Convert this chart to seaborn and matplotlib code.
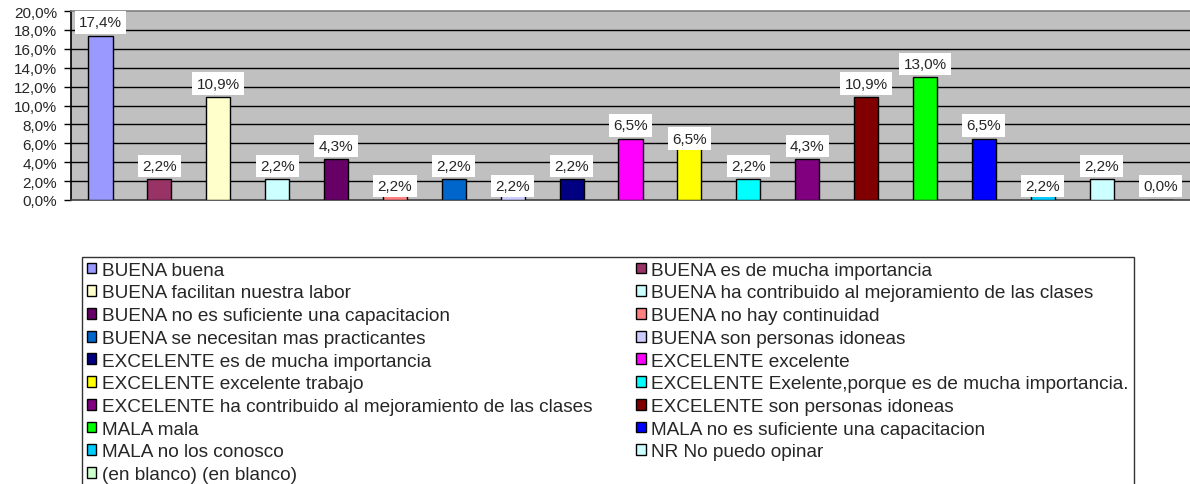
import matplotlib
matplotlib.use("Agg")
import matplotlib.pyplot as plt
from matplotlib.patches import Patch
import seaborn as sns
import pandas as pd

categorias = [
    "BUENA buena",
    "BUENA es de mucha importancia",
    "BUENA facilitan nuestra labor",
    "BUENA ha contribuido al mejoramiento de las clases",
    "BUENA no es suficiente una capacitacion",
    "BUENA no hay continuidad",
    "BUENA se necesitan mas practicantes",
    "BUENA son personas idoneas",
    "EXCELENTE es de mucha importancia",
    "EXCELENTE excelente",
    "EXCELENTE excelente trabajo",
    "EXCELENTE Exelente,porque es de mucha importancia.",
    "EXCELENTE ha contribuido al mejoramiento de las clases",
    "EXCELENTE son personas idoneas",
    "MALA mala",
    "MALA no es suficiente una capacitacion",
    "MALA no los conosco",
    "NR No puedo opinar",
    "(en blanco) (en blanco)",
]
porcentajes = [17.4, 2.2, 10.9, 2.2, 4.3, 2.2, 2.2, 2.2, 2.2, 6.5,
               6.5, 2.2, 4.3, 10.9, 13.0, 6.5, 2.2, 2.2, 0.0]
colores = ["#9999FF", "#993366", "#FFFFCC", "#CCFFFF", "#660066", "#FF8080",
           "#0066CC", "#CCCCFF", "#000080", "#FF00FF", "#FFFF00", "#00FFFF",
           "#800080", "#800000", "#00FF00", "#0000FF", "#00CCFF", "#CCFFFF",
           "#CCFFCC"]

df = pd.DataFrame({"cat": categorias, "pct": porcentajes})

sns.set_style("white")
plt.rcParams["font.family"] = ["Liberation Sans", "DejaVu Sans"]

fig = plt.figure(figsize=(11.9, 4.85), dpi=100)
ax = fig.add_axes([71 / 1190, 1 - 201 / 485, 1 - 71 / 1190, 189 / 485])
ax.set_facecolor("#C0C0C0")

sns.barplot(data=df, x="cat", y="pct", hue="cat", palette=colores,
            width=0.41, edgecolor="black", linewidth=1, saturation=1,
            legend=False, ax=ax, zorder=3)

ax.set_ylim(0, 20)
ax.set_xlim(-0.5, len(categorias) - 0.5)
ax.set_yticks(range(0, 21, 2))
ax.set_yticklabels([f"{v},0%" for v in range(0, 21, 2)], fontsize=11)
ax.tick_params(axis="y", direction="out", length=5, width=1, color="black",
               left=True, pad=5)
ax.set_xticks([])
ax.set_xlabel("")
ax.set_ylabel("")
for y in range(2, 20, 2):
    ax.axhline(y, color="black", linewidth=1, zorder=1)
ax.spines["left"].set_color("black")
ax.spines["bottom"].set_color("#404040")
ax.spines["top"].set_color("#808080")
ax.spines["right"].set_visible(False)
for s in ["left", "bottom", "top"]:
    ax.spines[s].set_linewidth(1.2)

# etiquetas de datos; algunas quedan encima de la barra, como en la fuente
bajas = {5, 7, 16, 18}
caja = dict(boxstyle="square,pad=0.28", fc="white", ec="none")
for i, v in enumerate(porcentajes):
    txt = f"{v:.1f}%".replace(".", ",")
    if i in bajas:
        ax.text(i, 1.5, txt, ha="center", va="center", fontsize=11,
                bbox=caja, zorder=5)
    elif i == 10:
        ax.text(i, v, txt, ha="center", va="center", fontsize=11,
                bbox=caja, zorder=5)
    else:
        ax.annotate(txt, (i, v), xytext=(0, 4.5), textcoords="offset points",
                    ha="center", va="bottom", fontsize=11, bbox=caja,
                    zorder=5)

# leyenda en dos columnas, leida por filas
orden = list(range(0, len(categorias), 2)) + list(range(1, len(categorias), 2))
handles = [Patch(facecolor=colores[i], edgecolor="black", linewidth=1) for i in orden]
etiquetas = [categorias[i] for i in orden]
leg = fig.legend(handles, etiquetas, loc="upper left", ncol=2,
                 bbox_to_anchor=(82 / 1190, 1 - 258 / 485),
                 fontsize=13.7, frameon=True, fancybox=False,
                 edgecolor="black", borderpad=0.25, labelspacing=0.3,
                 handlelength=0.5, handleheight=0.5, handletextpad=0.3,
                 columnspacing=2.3, borderaxespad=0)
leg.get_frame().set_linewidth(1)

fig.savefig("out.png", dpi=100)
